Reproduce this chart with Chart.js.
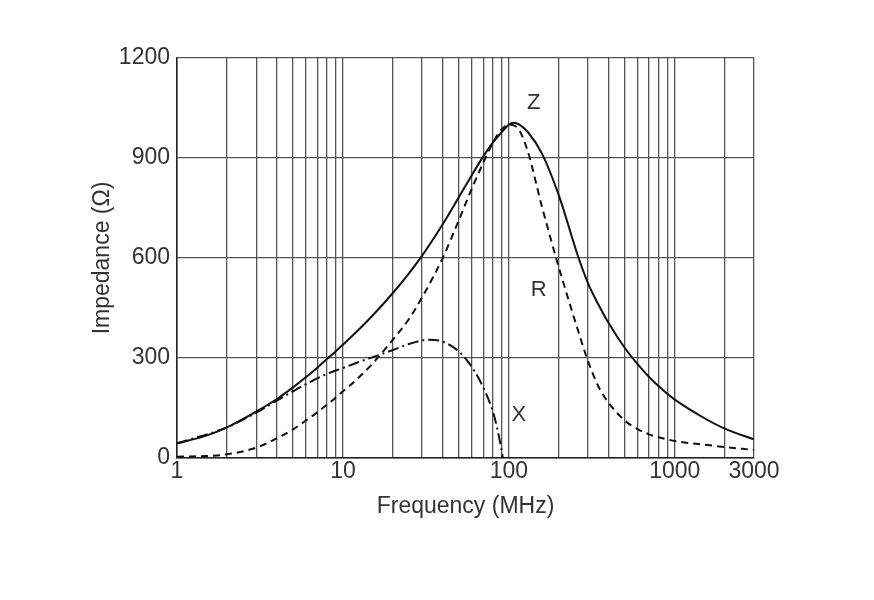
<!DOCTYPE html>
<html>
<head>
<meta charset="utf-8">
<script src="https://cdn.jsdelivr.net/npm/chart.js@4.4.1/dist/chart.umd.min.js"></script>
<style>
	html, body { margin: 0; padding: 0; background: #fff; }
	#wrap { width: 874px; height: 600px; }
</style>
</head>
<body>
<div id="wrap"><canvas id="impedance-chart" width="874" height="600"></canvas></div>
<script>
"use strict";

// frequency points (MHz) for Z and R
const freqZR = [1, 1.5, 2, 3, 4, 5, 6, 7, 8, 9, 10, 12, 15, 20, 25, 30, 40, 50, 60, 70, 80, 90, 100, 107, 115, 130, 158, 200, 262, 300, 350, 400, 500, 600, 700, 800, 900, 1000, 1500, 2000, 3000];
const impedanceZ = [44, 67, 92, 139, 177, 212, 243, 271, 297, 319, 340, 377, 426, 495, 554, 607, 702, 783, 850, 904, 946, 976, 1000, 1006, 1001, 978, 914, 788, 603, 524, 456, 404, 330, 280, 243, 215, 193, 175, 120, 88, 56];
const resistanceR = [4, 6, 11, 31, 59, 86, 113, 137, 160, 180, 200, 234, 282, 355, 417, 482, 601, 714, 810, 885, 945, 985, 1000, 998, 985, 920, 755, 572, 380, 290, 210, 165, 112, 86, 71, 62, 56, 51, 40, 33, 24];

// reactance X stops where it reaches zero
const freqX = [1, 2, 3, 4, 5, 6, 8, 10, 12, 16.5, 20, 25, 30, 33, 40, 50, 60, 70, 80, 85, 90, 92];
const reactanceX = [44, 92, 136, 172, 200, 222, 252, 270, 285, 309, 324, 342, 353, 355, 349, 319, 272, 212, 140, 90, 28, 0];

// axis ticks
const gridFreqs = [1, 2, 3, 4, 5, 6, 7, 8, 9, 10, 20, 30, 40, 50, 60, 70, 80, 90, 100, 200, 300, 400, 500, 600, 700, 800, 900, 1000, 2000, 3000];
const labelledFreqs = [1, 10, 100, 1000, 3000];
const yTicks = [0, 300, 600, 900, 1200];

// curve names and where they sit (freq, ohms)
const curveNames = ["Z", "R", "X"];
const curveNameFreq = [141, 151, 115];
const curveNameOhm = [1065, 504, 129];

const FONT = "'Liberation Sans', Arial, Helvetica, sans-serif";

function toPoints(xs, ys) {
	return xs.map((x, i) => ({ x: x, y: ys[i] }));
}

const curveLabels = {
	id: "curveLabels",
	afterDatasetsDraw(chart) {
		const ctx = chart.ctx;
		const xs = chart.scales.x;
		const ys = chart.scales.y;
		ctx.save();
		ctx.fillStyle = "#333";
		ctx.font = "22px " + FONT;
		ctx.textAlign = "center";
		ctx.textBaseline = "middle";
		curveNames.forEach((name, i) => {
			ctx.fillText(name, xs.getPixelForValue(curveNameFreq[i]), ys.getPixelForValue(curveNameOhm[i]));
		});
		ctx.restore();
	}
};

function lineSet(label, data, dash) {
	return {
		label: label,
		data: data,
		borderColor: "#111",
		borderWidth: 2,
		borderDash: dash,
		pointRadius: 0,
		fill: false,
		cubicInterpolationMode: "monotone"
	};
}

const ctx = document.querySelector("#impedance-chart").getContext("2d");
new Chart(ctx, {
	type: "line",
	data: {
		datasets: [
			lineSet("Z", toPoints(freqZR, impedanceZ), []),
			lineSet("R", toPoints(freqZR, resistanceR), [7, 5]),
			lineSet("X", toPoints(freqX, reactanceX), [11, 4, 2, 4])
		]
	},
	options: {
		responsive: false,
		animation: false,
		layout: { padding: { left: 85, right: 120, top: 58, bottom: 76 } },
		plugins: {
			legend: { display: false },
			tooltip: { enabled: false }
		},
		scales: {
			x: {
				type: "logarithmic",
				min: 1,
				max: 3000,
				afterBuildTicks(scale) {
					scale.ticks = gridFreqs.map(v => ({ value: v }));
				},
				afterFit(scale) { scale.height = 66; },
				ticks: {
					autoSkip: false,
					maxRotation: 0,
					padding: 0,
					color: "#333",
					font: { family: FONT, size: 23 },
					callback: (v) => labelledFreqs.includes(v) ? String(v) : ""
				},
				grid: { color: "#555", lineWidth: 1.3, drawTicks: false },
				border: { color: "#222", width: 1.5 },
				title: {
					display: true,
					text: "Frequency (MHz)",
					color: "#333",
					font: { family: FONT, size: 23 },
					padding: { top: 4, bottom: 4 }
				}
			},
			y: {
				min: 0,
				max: 1200,
				afterBuildTicks(scale) {
					scale.ticks = yTicks.map(v => ({ value: v }));
				},
				afterFit(scale) { scale.width = 92; },
				ticks: {
					padding: 7,
					color: "#333",
					font: { family: FONT, size: 23 },
					callback: (v) => String(v)
				},
				grid: { color: "#555", lineWidth: 1.3, drawTicks: false },
				border: { color: "#222", width: 1.5 },
				title: {
					display: true,
					text: "Impedance (Ω)",
					color: "#333",
					font: { family: FONT, size: 23 },
					padding: { top: 4, bottom: 4 }
				}
			}
		}
	},
	plugins: [curveLabels]
});
</script>
</body>
</html>
